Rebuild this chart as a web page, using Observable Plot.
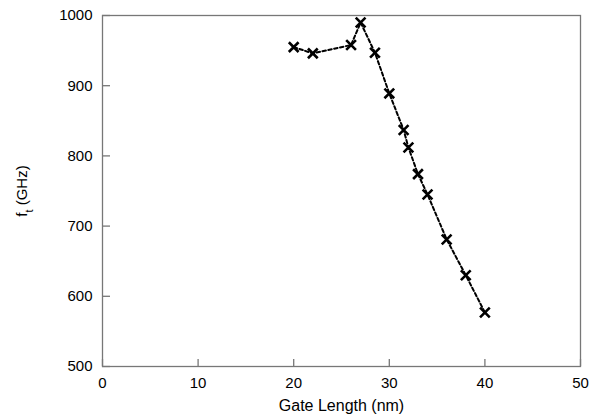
<!DOCTYPE html>
<html>
<head>
<meta charset="utf-8">
<script src="https://cdn.jsdelivr.net/npm/d3@7"></script>
<script src="https://cdn.jsdelivr.net/npm/@observablehq/plot@0.6"></script>
<style>
  html, body { margin: 0; padding: 0; background: #fff; }
  #chart svg { display: block; }
</style>
</head>
<body>
<div id="chart"></div>
<script>
const gateLength = [20, 22, 26, 27, 28.5, 30, 31.5, 32, 33, 34, 36, 38, 40];
const ft = [955, 946, 958, 990, 947, 889, 837, 812, 774, 745, 681, 630, 577];
const xTicks = [0, 10, 20, 30, 40, 50];
const yTicks = [500, 600, 700, 800, 900, 1000];
const xLabel = "Gate Length (nm)";
const yLabelMain = "f";
const yLabelSub = "t";
const yLabelRest = " (GHz)";

const data = gateLength.map((x, i) => ({x, y: ft[i]}));

const chart = Plot.plot({
  width: 590,
  height: 418,
  marginLeft: 102,
  marginRight: 10,
  marginTop: 15,
  marginBottom: 52,
  style: {fontFamily: "'Liberation Sans', Arial, sans-serif", fontSize: "15px", color: "#000", background: "#fff"},
  x: {domain: [0, 50], label: null},
  y: {domain: [500, 1000], label: null},
  marks: [
    Plot.frame({stroke: "#777", strokeWidth: 1.3}),
    Plot.axisX(xTicks, {tickSize: -7, text: null, stroke: "#777", strokeWidth: 1.3}),
    Plot.axisX(xTicks, {tickSize: 0, tickPadding: 11, fill: "#000", fontSize: 15, tickFormat: d3.format("d"), label: null}),
    Plot.axisX([], {tickSize: 0, fill: "#000", fontSize: 16, label: xLabel, labelAnchor: "center", labelArrow: "none", labelOffset: 44}),
    Plot.axisY(yTicks, {tickSize: -8, text: null, stroke: "#777", strokeWidth: 1.3}),
    Plot.axisY(yTicks, {tickSize: 0, tickPadding: 10, fill: "#000", fontSize: 15, tickFormat: d3.format("d"), label: null}),
    Plot.line(data, {x: "x", y: "y", stroke: "#000", strokeWidth: 2, strokeDasharray: "3.5,2.5"}),
    Plot.dot(data, {x: "x", y: "y", symbol: "times", r: 4.5, stroke: "#000", strokeWidth: 2.6})
  ]
});

const svg = d3.select(chart);
const t = svg.append("text")
  .attr("transform", "translate(27,191) rotate(-90)")
  .attr("text-anchor", "middle")
  .attr("fill", "#000")
  .attr("font-size", 15);
t.append("tspan").text(yLabelMain);
t.append("tspan").attr("baseline-shift", "sub").attr("font-size", 11).text(yLabelSub);
t.append("tspan").text(yLabelRest);

document.getElementById("chart").appendChild(chart);
</script>
</body>
</html>
